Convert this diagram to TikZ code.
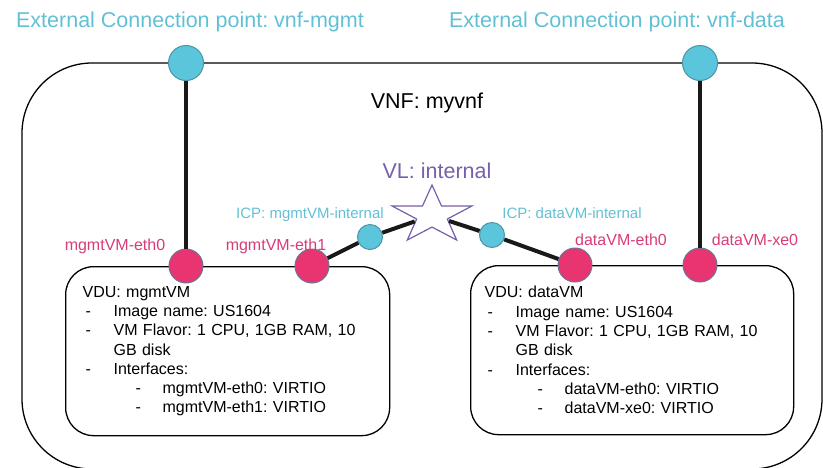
\documentclass[tikz,border=0pt]{standalone}
\usepackage{fontspec}
\setmainfont{Liberation Sans}
\usetikzlibrary{shapes.geometric}
\frenchspacing

\definecolor{cpfill}{HTML}{5BC5DB}
\definecolor{cpedge}{HTML}{4A96A6}
\definecolor{cptext}{HTML}{62C0D4}
\definecolor{vpfill}{HTML}{E83470}
\definecolor{vpedge}{HTML}{6A7896}
\definecolor{vptext}{HTML}{D73C78}
\definecolor{vlcol}{HTML}{785FAA}

\newcommand\vduitem[1]{\hspace*{3pt}\makebox[28pt][l]{-}#1}
\newcommand\vdusub[1]{\hspace*{53pt}\makebox[27pt][l]{-}#1}

\begin{document}
\begin{tikzpicture}[x=1pt, y=-1pt,
		ecp/.style={circle, draw=cpedge, fill=cpfill, line width=1, minimum size=35, inner sep=0},
		icp/.style={circle, draw=cpedge, fill=cpfill, line width=1, minimum size=25, inner sep=0},
		vdup/.style={circle, draw=vpedge, fill=vpfill, line width=1, minimum size=34, inner sep=0},
		vdu/.style={draw, line width=1.3, rounded corners=28, minimum height=169, align=left, inner ysep=0, anchor=north west, font=\fontsize{16}{19.3}\selectfont},
		vlstar/.style={star, star points=5, star point ratio=2.6, minimum size=60.8, inner sep=0, draw=vlcol, fill=white, line width=1.2, transform shape},
		link/.style={line width=4, draw=black!90},
		big/.style={font=\fontsize{21.5}{24}\selectfont, anchor=base},
		small/.style={font=\fontsize{16}{18}\selectfont, anchor=base}]
		
		\useasboundingbox (0,0) rectangle (823,467);
		
		\node [draw, line width=1.3, rounded corners=70, minimum width=800, minimum height=406] (vnf) at (422,266) {};
		\node [big] (vnftitle) at (427,108) {VNF: myvnf};
		
		\node [big, text=cptext] (ecpmgmttext) at (190,27) {External Connection point: vnf-mgmt};
		\node [big, text=cptext] (ecpdatatext) at (617,27) {External Connection point: vnf-data};
		
		\node [vdu, minimum width=315, text width=290, inner xsep=17] (mgmtvm) at (65,266) {VDU: mgmtVM\\
			\vduitem{Image name: US1604}\\
			\vduitem{VM Flavor: 1 CPU, 1GB RAM, 10}\\
			\hspace*{31pt}GB disk\\
			\vduitem{Interfaces:}\\
			\vdusub{mgmtVM-eth0: VIRTIO}\\
			\vdusub{mgmtVM-eth1: VIRTIO}};
		
		\node [vdu, minimum width=320, text width=295, inner xsep=14] (datavm) at (470,265) {VDU: dataVM\\
			\vduitem{Image name: US1604}\\
			\vduitem{VM Flavor: 1 CPU, 1GB RAM, 10}\\
			\hspace*{31pt}GB disk\\
			\vduitem{Interfaces:}\\
			\vdusub{dataVM-eth0: VIRTIO}\\
			\vdusub{dataVM-xe0: VIRTIO}};
		
		\node [ecp] (vnfmgmt) at (186,63) {};
		\node [ecp] (vnfdata) at (700,63) {};
		
		\node [vdup] (mgmteth0) at (186,266) {};
		\node [vdup] (mgmteth1) at (312,266) {};
		\node [vdup] (dataeth0) at (575,265) {};
		\node [vdup] (dataxe0) at (700,265) {};
		
		\node [small, text=vptext] (mgmteth0text) at (115,250) {mgmtVM-eth0};
		\node [small, text=vptext] (mgmteth1text) at (276,250) {mgmtVM-eth1};
		\node [small, text=vptext] (dataeth0text) at (621,245) {dataVM-eth0};
		\node [small, text=vptext] (dataxe0text) at (755,245) {dataVM-xe0};
		
		\node [icp] (icpmgmt) at (370,237) {};
		\node [icp] (icpdata) at (492,235) {};
		\node [font=\fontsize{15}{17}\selectfont, anchor=base, text=cptext] (icpmgmttext) at (310,218) {ICP: mgmtVM-internal};
		\node [font=\fontsize{15}{17}\selectfont, anchor=base, text=cptext] (icpdatatext) at (572,218) {ICP: dataVM-internal};
		
		\begin{scope}[shift={(432,215.4)}, xscale=1.38]
			\node [vlstar] (vl) at (0,0) {};
		\end{scope}
		\node [big, text=vlcol] (vltext) at (437,178) {VL: internal};
		
		\draw [link] (vnfmgmt)--(mgmteth0);
		\draw [link] (vnfdata)--(dataxe0);
		\draw [link] (mgmteth1)--(icpmgmt)--(vl);
		\draw [link] (dataeth0)--(icpdata)--(vl);
		
	\end{tikzpicture}
\end{document}
